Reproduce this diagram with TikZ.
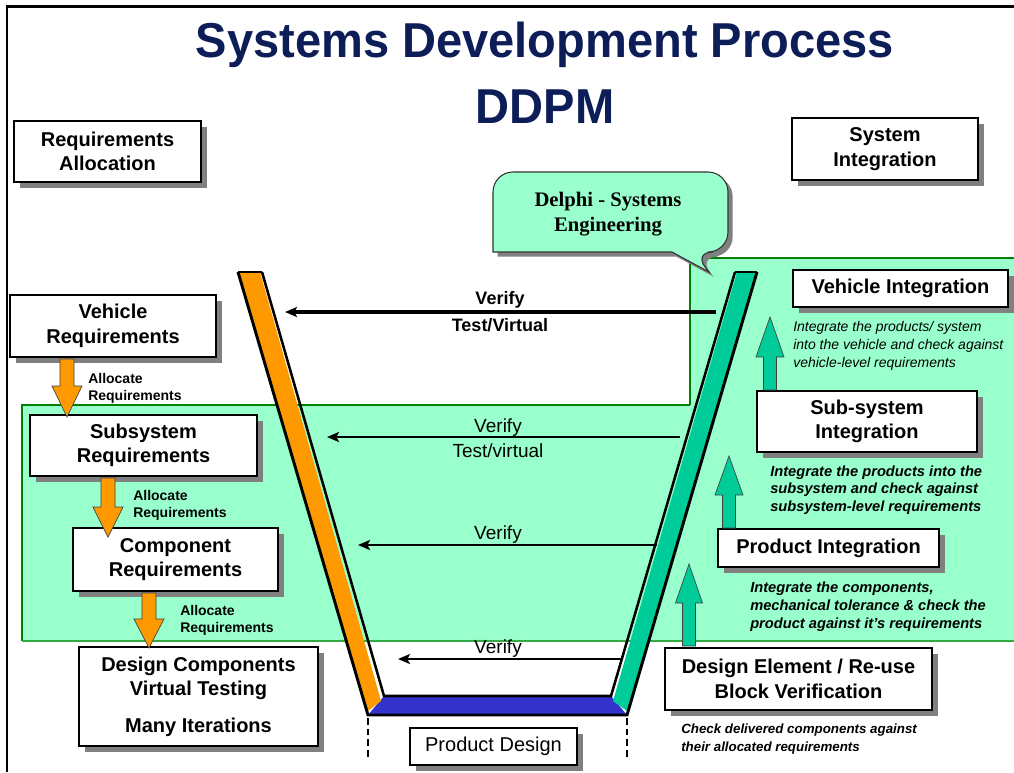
\documentclass[tikz,border=0pt]{standalone}
\usepackage{fontspec}
\usepackage{graphicx}
\setmainfont{Liberation Sans}
\newfontfamily\bubblefont{Liberation Serif}
\usetikzlibrary{shadows,arrows.meta}
\definecolor{lgreen}{HTML}{99FFCC}
\definecolor{dgreen}{HTML}{008000}
\definecolor{mgreen}{HTML}{33AA44}
\definecolor{orng}{HTML}{FF9900}
\definecolor{tealc}{HTML}{00CC99}
\definecolor{vblue}{HTML}{3333CC}
\definecolor{navy}{HTML}{0C1D58}
\definecolor{shd}{HTML}{808080}
\tikzset{
  box/.style={draw=black, line width=1pt, fill=white, inner sep=0pt, outer sep=0pt,
    align=center, font=\bfseries\fontsize{15}{18.4}\selectfont,
    drop shadow={shadow xshift=4.5pt, shadow yshift=-4.5pt, fill=shd, opacity=1}},
  plainbox/.style={box, font=\fontsize{15}{18.4}\selectfont},
  alloc/.style={anchor=west, inner sep=0pt, align=left, font=\bfseries\fontsize{10.5}{12.8}\selectfont},
  desc/.style={anchor=west, inner sep=0pt, align=left, font=\bfseries\itshape\fontsize{11}{13.3}\selectfont},
  verifyarrow/.style={line width=2pt, -{Stealth[length=9pt, width=7.5pt, inset=2pt]}},
  verifylabel/.style={inner sep=0pt, font=\fontsize{14.25}{17}\selectfont},
  orangearrow/.style={fill=orng, draw=black!75, line width=0.5pt},
  tealarrow/.style={fill=tealc, draw=black!75, line width=0.5pt},
}
% [style]{name}{x1}{y1}{x2}{y2}{text}
\newcommand\boxnode[7][box]{%
  \node[#1, minimum width={(#5-#3)*0.75pt}, minimum height={(#6-#4)*0.75pt}]
    (#2) at ({(#3+#5)/2},{(#4+#6)/2}) {#7};}
\newcommand\downarrowblk[4]{% x, ytop, ytip, yheadbase
  \filldraw[orangearrow] (#1-7,#2) -- (#1+7,#2) -- (#1+7,#4) -- (#1+15,#4) -- (#1,#3)
    -- (#1-15,#4) -- (#1-7,#4) -- cycle;}
\newcommand\uparrowblk[5]{% x, ybottom, ytip, yheadbase, headhalf
  \filldraw[tealarrow] (#1-6.5,#2) -- (#1+6.5,#2) -- (#1+6.5,#4) -- (#1+#5,#4) -- (#1,#3)
    -- (#1-#5,#4) -- (#1-6.5,#4) -- cycle;}
\begin{document}
\begin{tikzpicture}[x=0.75pt,y=-0.75pt]
\useasboundingbox (0,0) rectangle (1014,772);
\fill[white] (0,0) rectangle (1014,772);

% green region
\fill[lgreen] (22,405) -- (690,405) -- (690,258) -- (1014,258) -- (1014,641) -- (22,641) -- cycle;
\draw[dgreen, line width=1.5pt] (22,641) -- (22,405) -- (690,405);
\draw[dgreen, line width=0.8pt] (690,405) -- (690,258);
\draw[dgreen, line width=1.5pt] (690,258) -- (1014,258);
\draw[mgreen, line width=1.5pt] (22,641) -- (1014,641);

% frame
\draw[line width=1.6pt] (7,772) -- (7,6.5) -- (1014,6.5);

% title
\node[anchor=base, inner sep=0pt, text=navy, font=\bfseries\fontsize{36.75}{40}\selectfont] (title) at (545,57)
  {\scalebox{0.96}[1]{Systems Development Process}};
\node[anchor=base, inner sep=0pt, text=navy, font=\bfseries\fontsize{36.75}{40}\selectfont] (ddpm) at (545,123)
  {\scalebox{0.96}[1]{DDPM}};

% speech bubble
\draw[fill=lgreen, draw=black!80, line width=0.8pt,
  drop shadow={shadow xshift=3.5pt, shadow yshift=-3.5pt, fill=shd, opacity=1}]
  (493,212) [rounded corners=15pt] -- (493,172) -- (728,172) -- (728,252) -- (693,252)
  [sharp corners] -- (709,272) -- (672,252) -- (493,252) [rounded corners=15pt] -- cycle;
\node[inner sep=0pt, align=center, font=\bubblefont\bfseries\fontsize{15.5}{18.8}\selectfont] (bubble) at (608,214)
  {Delphi - Systems\\Engineering};

% V shape
\fill[vblue] (368,715) -- (384,696) -- (611,696) -- (627,715) -- cycle;
\fill[orng] (238,272) -- (260,272) -- (381,701) -- (368,711) -- cycle;
\fill[tealc] (737,272) -- (757,272) -- (627,711) -- (613,701) -- cycle;
\draw[line width=2.2pt, line join=miter] (238,272) -- (368,715) -- (627,715) -- (757,272);
\draw[line width=1.9pt, line join=miter] (262,272) -- (384,696) -- (611,696) -- (735,272);
\draw[line width=1.2pt] (238,272) -- (262,272);
\draw[line width=1.2pt] (735,272) -- (757,272);
\draw[line width=1pt, dash pattern=on 5pt off 3pt] (368,718) -- (368,757);
\draw[line width=1pt, dash pattern=on 5pt off 3pt] (627,718) -- (627,757);

% verify arrows
\coordinate (v1s) at (716,312); \coordinate (v1e) at (285,312);
\coordinate (v2s) at (680,437); \coordinate (v2e) at (327,437);
\coordinate (v3s) at (657,545); \coordinate (v3e) at (358,545);
\coordinate (v4s) at (623,659); \coordinate (v4e) at (398,659);
\draw[verifyarrow, line width=2.6pt] (v1s) -- (v1e);
\draw[verifyarrow] (v2s) -- (v2e);
\draw[verifyarrow] (v3s) -- (v3e);
\draw[verifyarrow] (v4s) -- (v4e);
\node[verifylabel, font=\bfseries\fontsize{13.5}{16}\selectfont] (l1a) at (500,300) {Verify};
\node[verifylabel, font=\bfseries\fontsize{13.5}{16}\selectfont] (l1b) at (500,325) {Test/Virtual};
\node[verifylabel] (l2a) at (498,428) {Verify};
\node[verifylabel] (l2b) at (498,451) {Test/virtual};
\node[verifylabel] (l3a) at (498,535) {Verify};
\node[verifylabel] (l4a) at (498,649) {Verify};

% left boxes
\boxnode{ra}{14}{121}{201}{182}{Requirements\\Allocation}
\boxnode{vr}{10}{295}{216}{357}{Vehicle\\Requirements}
\boxnode{sr}{30}{415}{257}{476}{Subsystem\\Requirements}
\boxnode{cr}{73}{528}{278}{591}{Component\\Requirements}
\boxnode{dc}{79}{647}{318}{746}{Design Components\\Virtual Testing\\[9pt]Many Iterations}
\boxnode[plainbox]{pd}{410}{728}{577}{765}{Product Design}

% right boxes
\boxnode{si}{792}{118}{978}{180}{System\\Integration}
\boxnode{vi}{793}{270}{1008}{307}{Vehicle Integration}
\boxnode{ssi}{757}{391}{977}{452}{Sub-system\\Integration}
\boxnode{pi}{718}{529}{939}{567}{Product Integration}
\boxnode{de}{665}{648}{932}{710}{Design Element / Re-use\\Block Verification}

% orange allocation arrows
\downarrowblk{67}{359}{417}{386}
\downarrowblk{108}{478}{537}{507}
\downarrowblk{149}{593}{648}{619}
\node[alloc] (al1) at (88,388.5) {Allocate\\Requirements};
\node[alloc] (al2) at (133,505.5) {Allocate\\Requirements};
\node[alloc] (al3) at (180,620) {Allocate\\Requirements};

% teal integration arrows
\uparrowblk{770}{390}{317}{357}{14}
\uparrowblk{729}{528}{456}{495}{14}
\uparrowblk{689}{646}{564}{603}{13.5}

% descriptions
\node[desc, font=\itshape\fontsize{10.5}{13.5}\selectfont] (d1) at (793,346)
  {Integrate the products/ system\\into the vehicle and check against\\vehicle-level requirements};
\node[desc] (d2) at (770,490)
  {Integrate the products into the\\subsystem and check against\\subsystem-level requirements};
\node[desc] (d3) at (750,606.5)
  {Integrate the components,\\mechanical tolerance \& check the\\product against it's requirements};
\node[desc, font=\bfseries\itshape\fontsize{10}{13.5}\selectfont] (d4) at (681,739)
  {Check delivered components against\\their allocated requirements};
\end{tikzpicture}
\end{document}
